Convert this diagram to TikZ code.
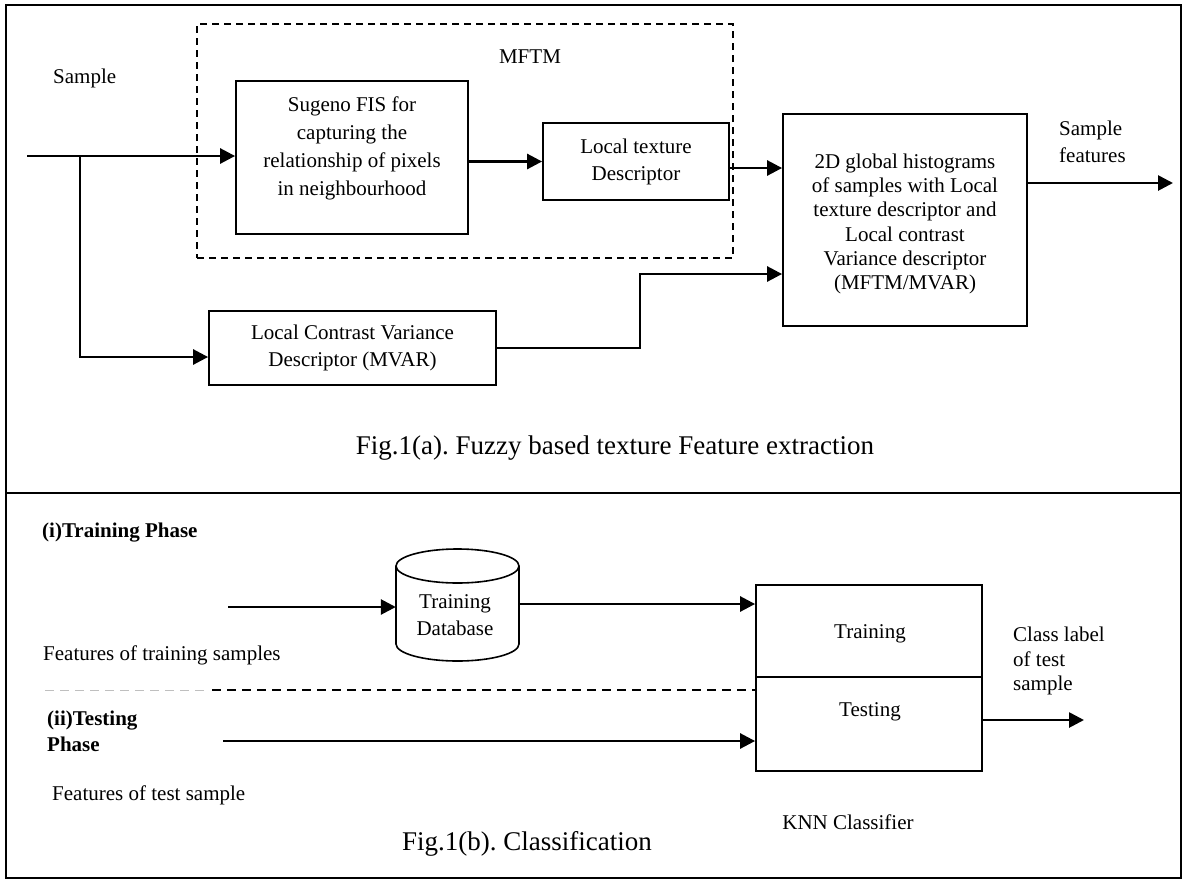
\documentclass[tikz,border=0pt]{standalone}
\usepackage{fontspec}
\setmainfont{Liberation Serif}
\usetikzlibrary{arrows.meta}
\frenchspacing
\tikzset{
  box/.style={draw, line width=1.8pt, inner sep=0pt},
  txt/.style={font=\fontsize{21}{27}\selectfont, align=center, inner sep=0pt},
  conn/.style={line width=2.7pt, -{Triangle[length=15pt,width=15pt]}},
  frame/.style={line width=1.8pt},
  dashbox/.style={draw, line width=1.7pt, dash pattern=on 7pt off 5pt},
  dashsep/.style={line width=1.7pt, dash pattern=on 9pt off 6pt},
  figcaption/.style={font=\fontsize{27}{32}\selectfont, inner sep=0pt},
}
\begin{document}
\begin{tikzpicture}[x=1pt,y=-1pt]
\useasboundingbox (0,0) rectangle (1184,879);
% frame
\draw[frame] (6,5) rectangle (1181,878);
\draw[frame] (6,493) -- (1181,493);

% ---------- part (a)
\node[dashbox, minimum width=536pt, minimum height=234pt] (mftm) at (465,141) {};
\node[txt] (mftmlbl) at (530,57) {MFTM};
\node[box, minimum width=232pt, minimum height=153pt] (sugeno) at (352,157.5) {};
\node[txt, font=\fontsize{21}{28}\selectfont] (sugenotxt) at (352,148) {Sugeno FIS for\\capturing the\\relationship of pixels\\in neighbourhood};
\node[box, txt, minimum width=186pt, minimum height=77pt] (ltd) at (636,161.5) {Local texture\\Descriptor};
\node[box, minimum width=244pt, minimum height=212pt] (hist) at (905,220) {};
\node[txt, font=\fontsize{21}{24.3}\selectfont] (histtxt) at (905,224) {2D global histograms\\of samples with Local\\texture descriptor and\\Local contrast\\Variance descriptor\\(MFTM/MVAR)};
\node[box, txt, minimum width=287pt, minimum height=74pt] (mvar) at (352.5,348) {Local Contrast Variance\\Descriptor (MVAR)};
\node[txt, anchor=base west] (sample) at (53,83) {Sample};
\node[txt, align=left, anchor=west] (sf) at (1059,142) {Sample\\features};
\node[figcaption, anchor=base] (capa) at (615,454) {Fig.1(a). Fuzzy based texture Feature extraction};

\coordinate (in) at (27,156);
\coordinate (br) at (80,156);
\coordinate (kink) at (640,274);
\coordinate (sfout) at (1173,183);
\draw[conn] (in) -- (in -| sugeno.west);
\draw[conn] (br) |- ([yshift=-9pt]mvar.west);
\draw[conn] (sugeno.east |- ltd.west) -- (ltd.west);
\draw[conn] ([yshift=-6.5pt]ltd.east) -- ([yshift=-6.5pt]ltd.east -| hist.west);
\draw[conn] (mvar.east) -| (kink) -- (kink -| hist.west);
\draw[conn] (hist.east |- sfout) -- (sfout);

% ---------- part (b)
\node[txt, font=\bfseries\fontsize{21}{26}\selectfont, anchor=base west] (trph) at (42,537) {(i)Training Phase};
\node[txt, font=\bfseries\fontsize{21}{26}\selectfont, align=left, anchor=west] (teph) at (47,731) {(ii)Testing\\Phase};
\node[txt, anchor=base west] (ftr) at (43,660) {Features of training samples};
\node[txt, anchor=base west] (fte) at (52,800) {Features of test sample};

% database cylinder
\node[minimum width=123pt, minimum height=112pt, inner sep=0pt] (db) at (457.5,605) {};
\draw[line width=1.6pt] (457.5,566) ellipse [x radius=61.5pt, y radius=17pt];
\draw[line width=1.6pt] (396,566) -- (396,644) arc[start angle=180, end angle=360, x radius=61.5pt, y radius=17pt] -- (519,566);
\node[txt] (dbtxt) at (455,615.5) {Training\\Database};

% KNN classifier
\node[box, minimum width=226pt, minimum height=92pt] (train) at (869,631) {};
\node[box, minimum width=226pt, minimum height=94pt] (test) at (869,724) {};
\node[txt] (traintxt) at (870,634) {Training};
\node[txt] (testtxt) at (870,712) {Testing};
\node[txt, anchor=base] (knn) at (848,829) {KNN Classifier};
\node[txt, align=left, anchor=west, font=\fontsize{21}{24.5}\selectfont] (cl) at (1013,661) {Class label\\of test\\sample};
\node[figcaption, anchor=base] (capb) at (527,850) {Fig.1(b). Classification};

\coordinate (trin) at (228,607);
\coordinate (tein) at (223,741);
\coordinate (clout) at (1084,720);
\coordinate (dl0) at (45,690);
\coordinate (dl1) at (205,690);
\coordinate (dl2) at (212,690);
\draw[conn] (trin) -- (trin -| db.west);
\draw[conn] ([yshift=1pt]db.east) -- ([yshift=1pt]db.east -| train.west);
\draw[conn] (tein) -- (tein -| test.west);
\draw[conn] (test.east |- clout) -- (clout);
\draw[dashsep, black!25, line width=1pt] (dl0) -- (dl1);
\draw[dashsep] (dl2) -- (dl2 -| test.west);
\end{tikzpicture}
\end{document}
